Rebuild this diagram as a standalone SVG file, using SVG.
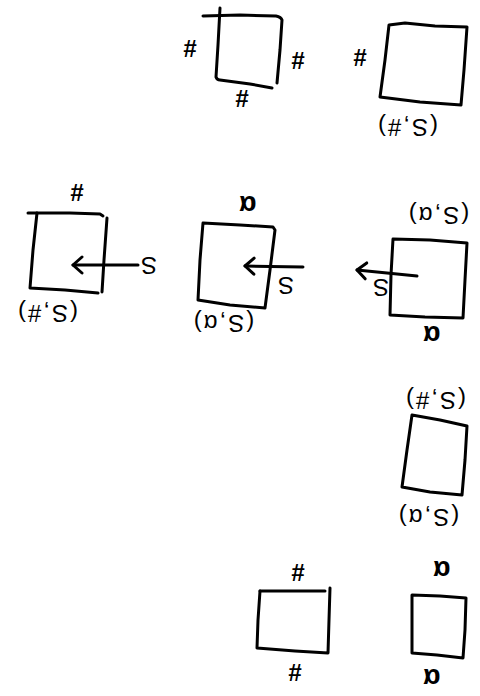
<svg xmlns="http://www.w3.org/2000/svg" width="480" height="696" viewBox="0 0 480 696">
<defs>
<style>
.b{fill:none;stroke:#000;stroke-width:3;stroke-linecap:round;stroke-linejoin:round}
.t{font-family:"Liberation Sans",Arial,sans-serif;font-size:24px;font-weight:bold;fill:#000;text-anchor:middle;dominant-baseline:central}
.p{font-size:24px;font-weight:normal;letter-spacing:2px}
.a{font-size:28px}
</style>
<marker id="ah" markerUnits="userSpaceOnUse" markerWidth="24" markerHeight="24" refX="22" refY="12" orient="auto" viewBox="0 0 24 24">
<path d="M13,4 L22,12 L13,20" fill="none" stroke="#000" stroke-width="3" stroke-linecap="round" stroke-linejoin="round"/>
</marker>
</defs>
<rect width="480" height="696" fill="#fff"/>

<g id="box1">
<path class="b" d="M203,16 L240,15 L276,16 Q281,17 282,20 L280,50 L277,83"/>
<path class="b" d="M220,8 L218,45 L216,77 Q217,80 220,80 L250,84 L272,88"/>
<text class="t" transform="rotate(180 190 48)" x="190" y="48">#</text>
<text class="t" transform="rotate(180 298 60)" x="298" y="60">#</text>
<text class="t" transform="rotate(180 242 98)" x="242" y="98">#</text>
</g>

<g id="box2">
<path class="b" d="M389,25 L405,23 L435,26 L467,27 L464,70 L461,105 L420,102 L380,97 L385,60 Z"/>
<text class="t" transform="rotate(180 360 57)" x="360" y="57">#</text>
<text class="t p" transform="rotate(180 407 127)" x="407" y="127">(S,#)</text>
</g>

<g id="box3">
<path class="b" d="M28,213 L70,213 L100,214 L103,216"/>
<path class="b" d="M37,213 L33,250 L30,288 L65,290 L98,293"/>
<path class="b" d="M107,218 L104,260 L102,292"/>
<text class="t" transform="rotate(180 77 192)" x="77" y="192">#</text>
<text class="t p" transform="rotate(180 148 265)" x="148" y="265">S</text>
<text class="t p" transform="rotate(180 47 313)" x="47" y="313">(S,#)</text>
</g>

<g id="box4">
<path class="b" d="M203,223 L240,225 L273,227 L275,230 L270,270 L265,308 L230,305 L198,300 L200,260 Z"/>
<text class="t a" transform="rotate(180 248 205)" x="248" y="205">α</text>
<text class="t p" transform="rotate(180 285 285)" x="285" y="285">S</text>
<text class="t p" transform="rotate(180 223 323)" x="223" y="323">(S,α)</text>
</g>

<g id="box5">
<path class="b" d="M393,239 L430,240 L467,243 L465,280 L463,318 L425,317 L390,315 L391,275 Z"/>
<text class="t p" transform="rotate(180 438 215)" x="438" y="215">(S,α)</text>
<text class="t p" transform="rotate(180 380 287)" x="380" y="287">S</text>
<text class="t a" transform="rotate(180 432 335)" x="432" y="335">α</text>
</g>

<g id="box6">
<path class="b" d="M412,415 L440,420 L467,426 L465,460 L462,495 L430,492 L402,487 L407,450 Z"/>
<text class="t p" transform="rotate(180 435 400)" x="435" y="400">(S,#)</text>
<text class="t p" transform="rotate(180 428 517)" x="428" y="517">(S,α)</text>
</g>

<g id="box7">
<path class="b" d="M260,591 L295,591 L325,591"/>
<path class="b" d="M260,591 L258,620 L257,648 L295,651 L328,653 L329,620 L330,588"/>
<text class="t" transform="rotate(180 298 572)" x="298" y="572">#</text>
<text class="t" transform="rotate(180 295 672)" x="295" y="672">#</text>
</g>

<g id="box8">
<path class="b" d="M412,595 L440,596 L466,598 L465,630 L463,658 L437,655 L412,653 L412,625 Z"/>
<text class="t a" transform="rotate(180 442 570)" x="442" y="570">α</text>
<text class="t a" transform="rotate(180 432 678)" x="432" y="678">α</text>
</g>

<g id="connectors">
<path class="b" d="M138,265 L73,265" marker-end="url(#ah)"/>
<path class="b" d="M303,267 L245,266" marker-end="url(#ah)"/>
<path class="b" d="M417,276 L357,270" marker-end="url(#ah)"/>
</g>
</svg>
